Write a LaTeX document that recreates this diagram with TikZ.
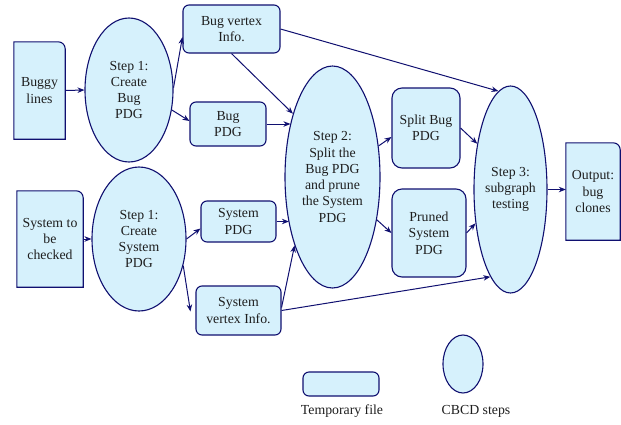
\documentclass[tikz,border=0pt]{standalone}
\usepackage{fontspec}
\setmainfont{Liberation Serif}
\usetikzlibrary{shapes.geometric,arrows.meta}
\definecolor{boxfill}{RGB}{214,241,252}
\definecolor{navyline}{RGB}{16,16,112}
\definecolor{txt}{RGB}{30,30,30}
\tikzset{
  base/.style={inner sep=0pt, align=center, text=txt, font=\fontsize{13.8}{16.3}\selectfont},
  stepell/.style={base, ellipse, draw=navyline, fill=boxfill, line width=1.1pt},
  tmpbox/.style={base, rectangle, rounded corners=6pt, draw=navyline, fill=boxfill, line width=1.1pt},
  docbox/.style={base, rectangle},
  docline/.style={draw=navyline, fill=boxfill, line width=1.1pt},
  conn/.style={draw=navyline, line width=1pt, -{Stealth[length=7pt,width=5.5pt]}},
  lbl/.style={base}
}
\newcommand{\docshape}[1]{%
  \path[docline] (#1.south west) -- (#1.north west) -- ([xshift=-7pt]#1.north east)
    arc[start angle=90, end angle=0, radius=7pt] -- (#1.south east) -- cycle;}
\begin{document}
\begin{tikzpicture}[x=1pt,y=1pt]
\useasboundingbox (0,0) rectangle (621,-424);
% input / output document boxes (shapes first, text on top)
\node[docbox, minimum width=51pt, minimum height=97pt] (buggy) at (39.5,-90.5) {};
\node[docbox, minimum width=66pt, minimum height=96pt] (sys) at (50,-239) {};
\node[docbox, minimum width=54pt, minimum height=97pt] (out) at (593,-191.5) {};
\docshape{buggy}
\docshape{sys}
\docshape{out}
\node[lbl] at (buggy) {Buggy\\lines};
\node[lbl] at (sys) {System to\\be\\checked};
\node[lbl] at (out) {Output:\\bug\\clones};
% steps
\node[stepell, minimum width=88pt, minimum height=144pt] (s1b) at (129,-90) {Step 1:\\Create\\Bug\\PDG};
\node[stepell, minimum width=94pt, minimum height=144pt] (s1s) at (139,-239) {Step 1:\\Create\\System\\PDG};
\node[stepell, minimum width=95pt, minimum height=222pt] (s2) at (332.5,-177) {Step 2:\\Split the\\Bug PDG\\and prune\\the System\\PDG};
\node[stepell, minimum width=73pt, minimum height=207pt] (s3) at (510.5,-189.5) {Step 3:\\subgraph\\testing};
% temporary files
\node[tmpbox, minimum width=97pt, minimum height=48pt] (bvi) at (231.5,-29) {Bug vertex\\Info.};
\node[tmpbox, minimum width=76pt, minimum height=44pt] (bpdg) at (228,-124) {Bug\\PDG};
\node[tmpbox, minimum width=75pt, minimum height=41pt] (spdg) at (238.5,-221.5) {System\\PDG};
\node[tmpbox, minimum width=85pt, minimum height=49pt] (svi) at (238.5,-310.5) {System\\vertex Info.};
\node[tmpbox, rounded corners=10pt, minimum width=68pt, minimum height=80pt] (split) at (426,-128) {Split Bug\\PDG};
\node[tmpbox, rounded corners=10pt, minimum width=74pt, minimum height=88pt] (pruned) at (429,-233) {Pruned\\System\\PDG};
% legend
\node[tmpbox, minimum width=76pt, minimum height=24pt] (legbox) at (341,-384) {};
\node[stepell, minimum width=40pt, minimum height=58pt] (legell) at (463,-364) {};
\node[lbl] (legbt) at (342,-411) {Temporary file};
\node[lbl] (leget) at (476,-411) {CBCD steps};
% connectors
\draw[conn] (buggy.east) -- (s1b.west);
\draw[conn] (s1b.3) -- ([yshift=-8pt]bvi.west);
\draw[conn] (s1b.-25) -- ([yshift=3pt]bpdg.west);
\draw[conn] (bvi.south) -- (s2.122);
\draw[conn] (bvi.east) -- (s3.97);
\draw[conn] (bpdg.east) -- (bpdg.east -| s2.128);
\draw[conn] (s2.34) -- ([yshift=-9pt]split.west);
\draw[conn] (split.east) -- (s3.126);
\draw[conn] (s2.-44) -- (pruned.west);
\draw[conn] (pruned.east) -- (s3.-136);
\draw[conn] (s3.east) -- (s3.east -| out.west);
\draw[conn] (sys.east) -- (s1s.west);
\draw[conn] (s1s.east) -- ([yshift=-7pt]spdg.west);
\draw[conn] (s1s.-31) -- ([xshift=-5pt,yshift=-1pt]svi.west);
\draw[conn] (spdg.east) -- (spdg.east -| s2.-133);
\draw[conn] ([yshift=3pt]svi.east) -- (s2.-119);
\draw[conn] (svi.east) -- (s3.-103);
\end{tikzpicture}
\end{document}
